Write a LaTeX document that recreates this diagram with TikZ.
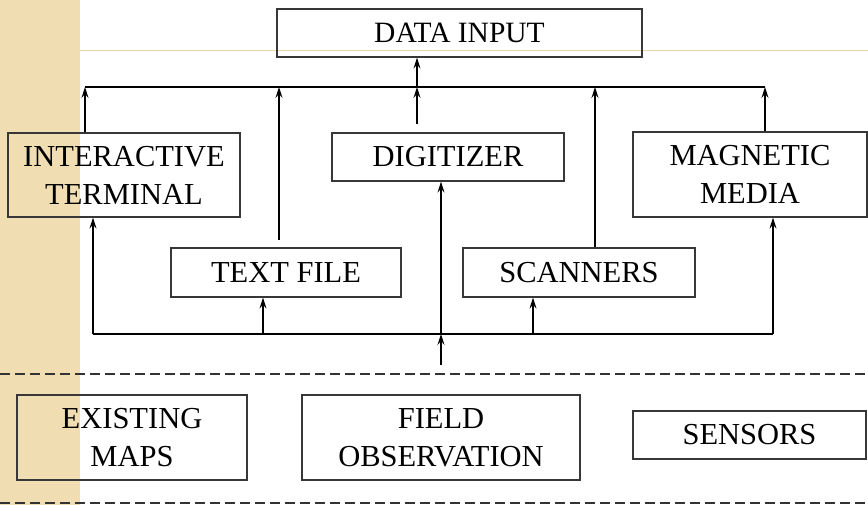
\documentclass[tikz,border=0pt]{standalone}
\usepackage{fontspec}
\setmainfont{Liberation Serif}
\usetikzlibrary{arrows.meta}
\definecolor{tanband}{RGB}{240,222,178}
\definecolor{tanline}{RGB}{234,216,168}
\definecolor{boxline}{RGB}{55,55,55}
\tikzset{
  box/.style={draw=boxline, line width=1.3pt, inner sep=0pt, align=center,
    font=\fontsize{30.5}{38}\selectfont},
  arr/.style={line width=1.2pt, -{Stealth[length=11pt,width=7pt,inset=4pt]}},
  bus/.style={line width=2.5pt},
  dashline/.style={line width=1.2pt, dash pattern=on 10pt off 5pt, draw=black!80}
}
\begin{document}
\begin{tikzpicture}[x=1pt,y=-1pt]
\useasboundingbox (0,0) rectangle (868,505);
\fill[tanband] (0,0) rectangle (80,505);
\draw[tanline, line width=1pt] (80,50.5) -- (868,50.5);

% boxes
\node[box, minimum width=365pt, minimum height=48pt, font=\fontsize{29.5}{36}\selectfont] (datain) at (459.5,33) {DATA INPUT};
\node[box, minimum width=232pt, minimum height=84pt] (interactive) at (124,175) {INTERACTIVE\\TERMINAL};
\node[box, minimum width=232pt, minimum height=48pt] (digitizer) at (448,157) {DIGITIZER};
\node[box, minimum width=234pt, minimum height=85pt] (magnetic) at (750,174.5) {MAGNETIC\\MEDIA};
\node[box, minimum width=230pt, minimum height=49pt] (textfile) at (286,272.5) {TEXT FILE};
\node[box, minimum width=232pt, minimum height=49pt] (scanners) at (579,272.5) {SCANNERS};
\node[box, minimum width=230pt, minimum height=85pt] (existing) at (132,437.5) {EXISTING\\MAPS};
\node[box, minimum width=278pt, minimum height=85pt] (field) at (441,437.5) {FIELD\\OBSERVATION};
\node[box, minimum width=233pt, minimum height=48pt] (sensors) at (749.5,435) {SENSORS};

% top bus
\coordinate (ta) at (85,87);
\coordinate (tb) at (279,87);
\coordinate (tc) at (417,87);
\coordinate (td) at (595,87);
\coordinate (te) at (765,87);
\draw[bus] (ta) -- (te);
\draw[arr] (interactive.north -| ta) -- (ta);
\draw[arr, shorten <=7pt] (textfile.north -| tb) -- (tb);
\draw[arr, shorten <=8pt] (digitizer.north -| tc) -- (tc);
\draw[arr] (scanners.north -| td) -- (td);
\draw[arr] (magnetic.north -| te) -- (te);
\draw[arr] (tc) -- (datain.south -| tc);

% bottom bus
\coordinate (ba) at (93,334);
\coordinate (bb) at (263,334);
\coordinate (bc) at (441,334);
\coordinate (bd) at (533,334);
\coordinate (be) at (773,334);
\coordinate (src) at (441,365);
\draw[bus] (ba) -- (be);
\draw[arr] (ba) -- (interactive.south -| ba);
\draw[arr] (bb) -- (textfile.south -| bb);
\draw[arr] (bc) -- (digitizer.south -| bc);
\draw[arr] (bd) -- (scanners.south -| bd);
\draw[arr] (be) -- (magnetic.south -| be);
\draw[arr] (src) -- (bc);

% dashed separators
\coordinate (d1l) at (0,374);
\coordinate (d1r) at (868,374);
\coordinate (d2l) at (0,503);
\coordinate (d2r) at (868,503);
\draw[dashline] (d1l) -- (d1r);
\draw[dashline] (d2l) -- (d2r);
\end{tikzpicture}
\end{document}
